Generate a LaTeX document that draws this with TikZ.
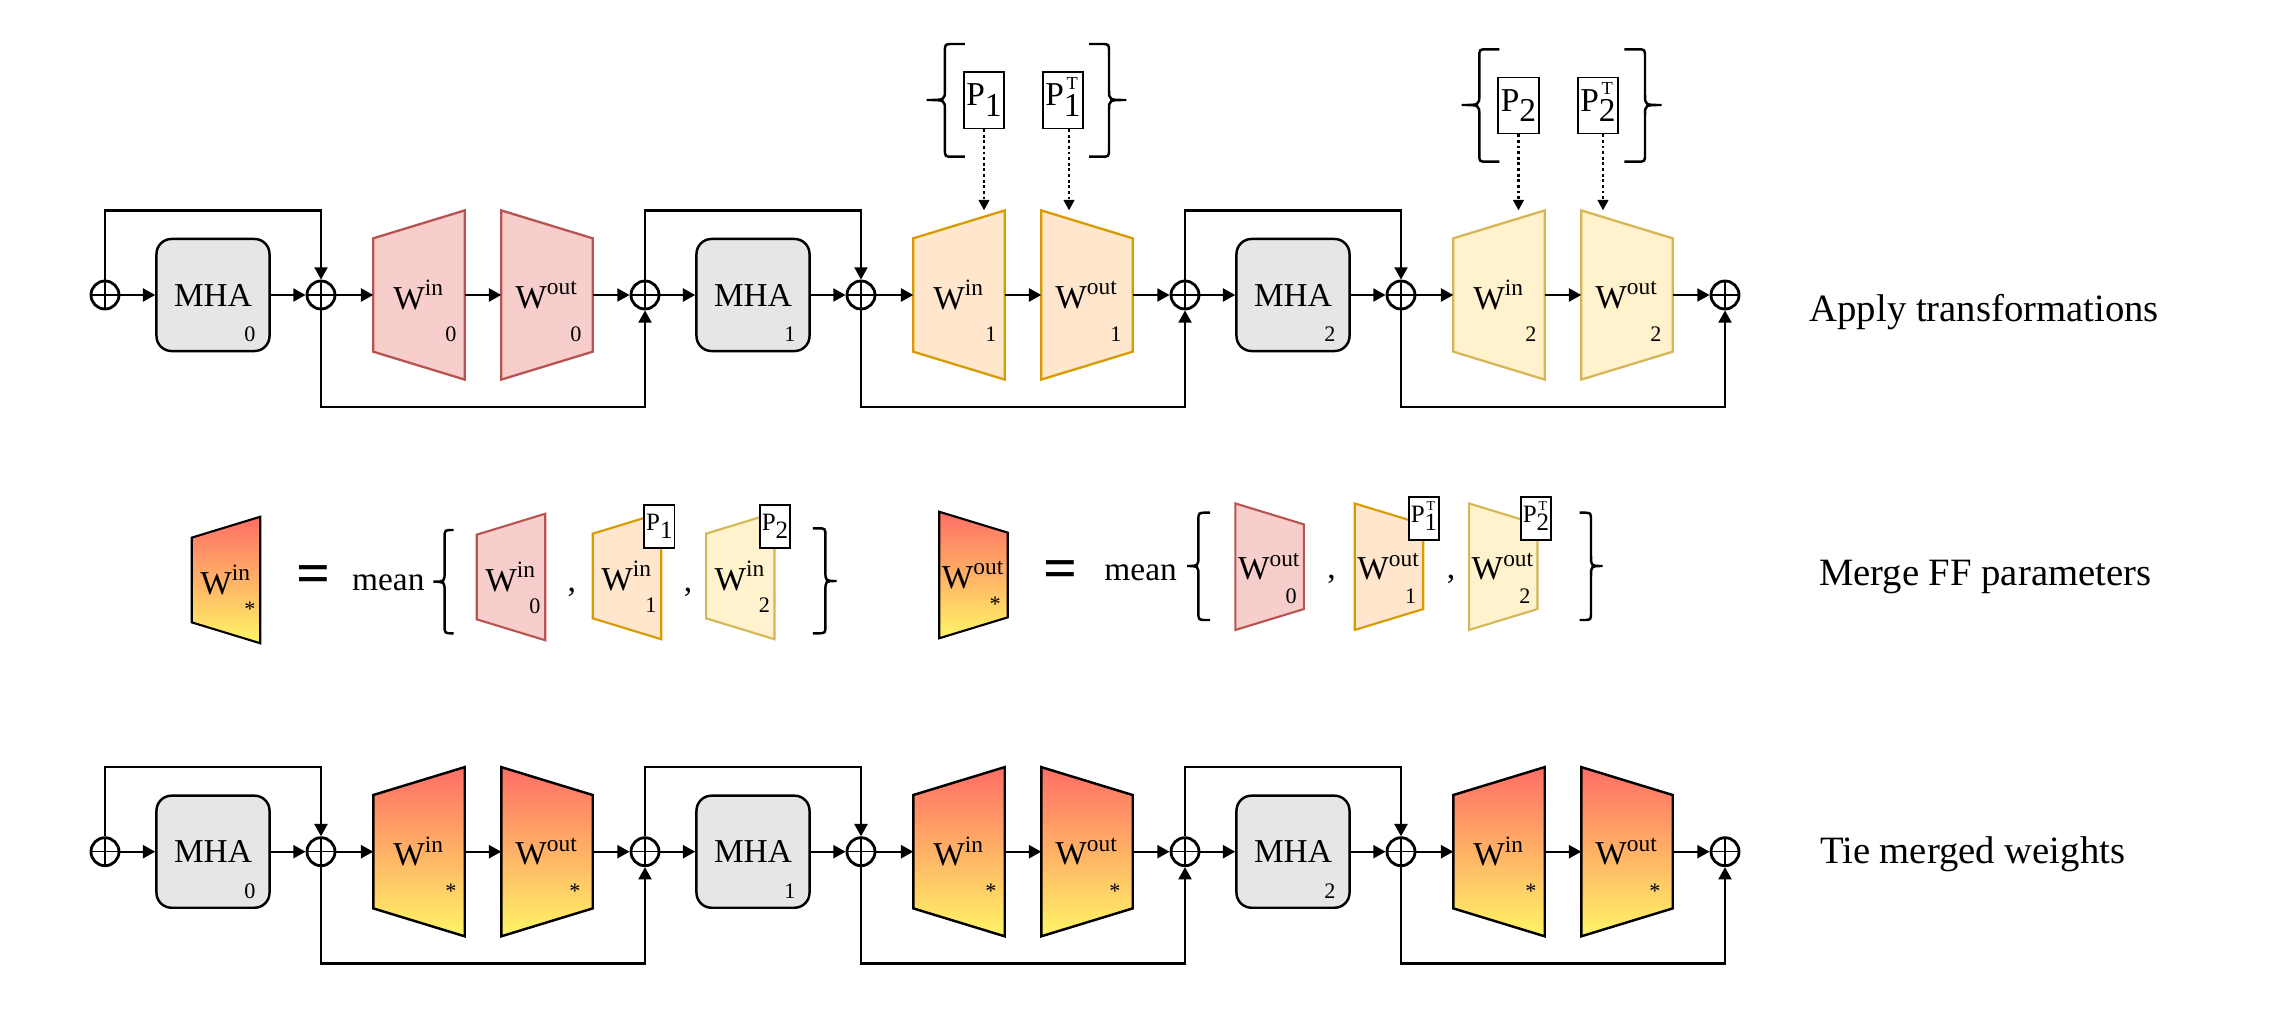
\documentclass[tikz,border=0pt]{standalone}
\usepackage{fontspec}
\setmainfont{Liberation Serif}
\usepackage{graphicx}
\usetikzlibrary{arrows.meta,calc,backgrounds}

\definecolor{pinkfill}{HTML}{F8CECC}
\definecolor{pinkline}{HTML}{B85450}
\definecolor{orangefill}{HTML}{FFE6CC}
\definecolor{orangeline}{HTML}{D79B00}
\definecolor{yellowfill}{HTML}{FFF2CC}
\definecolor{yellowline}{HTML}{D6B656}
\definecolor{mhagray}{HTML}{E6E6E6}
\definecolor{gradtop}{RGB}{255,110,102}
\definecolor{gradbot}{RGB}{255,245,102}

\newcommand{\fsmain}{\fontsize{9.5}{11}\selectfont}
\newcommand{\fssub}{\fontsize{6.3}{7}\selectfont}
\newcommand{\fssmall}{\fontsize{7.1}{8}\selectfont}
\newcommand{\fsrow}{\fontsize{11}{13}\selectfont}
\newcommand{\fseq}{\fontsize{17}{17}\selectfont\bfseries}

% P boxes
\newcommand{\Psub}[1]{P\raisebox{-0.32em}{#1}}
\newcommand{\PsubT}[1]{P\rlap{\smash{\raisebox{0.5em}{\kern0.08em\scalebox{0.55}{T}}}}\raisebox{-0.32em}{#1}}

% trapezoids drawn round an empty block node
\newcommand{\ffin}[2]{\path[#2] (#1.north east) -- (#1.south east)
  -- ($(#1.south west)!0.165!(#1.north west)$) -- ($(#1.north west)!0.165!(#1.south west)$) -- cycle;}
\newcommand{\ffout}[2]{\path[#2] (#1.north west) -- (#1.south west)
  -- ($(#1.south east)!0.165!(#1.north east)$) -- ($(#1.north east)!0.165!(#1.south east)$) -- cycle;}

% curly brace: tip x, arm x, hook x, top y, mid y, bottom y
\newcommand{\drawbrace}[6]{\draw[brc] (#3,#4) -- ($(#2,#4)!0.08cm!(#3,#4)$) .. controls (#2,#4) .. (#2,#4+8)
  -- (#2,#5-10) .. controls (#2,#5) .. (#1,#5) .. controls (#2,#5) .. (#2,#5+10)
  -- (#2,#6-8) .. controls (#2,#6) .. ($(#2,#6)!0.08cm!(#3,#6)$) -- (#3,#6);}

\begin{document}
\begin{tikzpicture}[x=0.01cm, y=-0.01cm,
    add/.style={circle, draw, line width=0.8pt, minimum size=0.28cm, inner sep=0pt,
      path picture={\draw[line width=0.4pt] (path picture bounding box.north) -- (path picture bounding box.south)
        (path picture bounding box.west) -- (path picture bounding box.east);}},
    mha/.style={draw, fill=mhagray, line width=0.7pt, rounded corners=0.15cm,
      minimum width=1.13cm, minimum height=1.12cm, inner sep=0pt, font=\fsmain},
    ff/.style={minimum width=0.9cm, minimum height=1.677cm, inner sep=0pt, font=\fsmain},
    ffs/.style={minimum width=0.67cm, minimum height=1.25cm, inner sep=0pt, font=\fsmain},
    sub/.style={font=\fssub, inner sep=0pt, anchor=base},
    conn/.style={line width=0.65pt, -{Triangle[length=3.5pt, width=3.7pt]}},
    dotconn/.style={line width=0.8pt, dash pattern=on 0.8pt off 0.8pt, -{Triangle[length=3pt, width=3pt]}},
    pbox/.style={draw, fill=white, line width=0.45pt, inner sep=0pt,
      minimum width=0.405cm, minimum height=0.56cm, font=\fsmain},
    pboxs/.style={pbox, minimum width=0.305cm, minimum height=0.43cm, font=\fssmall},
    brc/.style={line width=0.7pt},
    txt/.style={font=\fsmain, inner sep=0pt, anchor=base},
    rowlabel/.style={font=\fsrow, anchor=base west, inner sep=0pt},
    merged/.style={draw=black, line width=0.7pt, top color=gradtop, bottom color=gradbot},
  ]
  \useasboundingbox (0,0) rectangle (2275,1012);

  % Apply transformations (riga 1)
  \foreach \k/\fc/\lc in {0/pinkfill/pinkline,1/orangefill/orangeline,2/yellowfill/yellowline} {
    \node[add] (ap-a\k) at (105+540*\k, 295) {};
    \node[mha] (ap-m\k) at (213+540*\k, 295) {MHA};
    \node[sub] (ap-m\k s) at (250+540*\k, 341.7) {\k};
    \node[add] (ap-b\k) at (321+540*\k, 295) {};
    \node[ff] (ap-i\k) at (419+540*\k, 295) {W\textsuperscript{in}};
    \node[sub] (ap-i\k s) at (451+540*\k, 341.7) {\k};
    \node[ff] (ap-o\k) at (547+540*\k, 295) {W\textsuperscript{out}};
    \node[sub] (ap-o\k s) at (576+540*\k, 341.7) {\k};
    \begin{scope}[on background layer]
      \ffin{ap-i\k}{fill=\fc, draw=\lc, line width=0.65pt}
      \ffout{ap-o\k}{fill=\fc, draw=\lc, line width=0.65pt}
    \end{scope}
  }
  \node[add] (ap-a3) at (1725, 295) {};
  \node[rowlabel] (ap-label) at (1809, 321.7) {Apply transformations};

  % permutazioni
  \node[pbox] (ap-p1) at (984, 100.3) {\Psub{1}};
  \node[pbox] (ap-p1t) at (1063, 100.3) {\PsubT{1}};
  \node[pbox] (ap-p2) at (1518.5, 105.5) {\Psub{2}};
  \node[pbox] (ap-p2t) at (1598, 105.5) {\PsubT{2}};
  \draw[dotconn] (ap-p1) -- (ap-p1 |- ap-i1.north);
  \draw[dotconn] ($(ap-p1t.south)+(6,0)$) -- ($(ap-p1t.south |- ap-o1.north)+(6,0)$);
  \draw[dotconn] (ap-p2) -- (ap-p2 |- ap-i2.north);
  \draw[dotconn] ($(ap-p2t.south)+(5,0)$) -- ($(ap-p2t.south |- ap-o2.north)+(5,0)$);
  \drawbrace{926.5}{944.9}{964.8}{44}{100}{156.7}
  \drawbrace{1126.3}{1109}{1089}{44}{100}{156.7}
  \drawbrace{1461.7}{1479.3}{1499.3}{49.3}{105}{161.7}
  \drawbrace{1661.7}{1645}{1624.3}{49.3}{105}{161.7}

  % Merge FF parameters (riga 2)
  \node[ffs] (mg-wi) at (226, 580) {W\textsuperscript{in}};
  \node[sub] (mg-wi s) at ($(mg-wi)+(24,36.5)$) {*};
  \node[font=\fseq, inner sep=0pt] (mg-eq1) at (314, 580) {=};
  \node[txt] (mg-mean1) at (388.3, 590) {mean};
  \drawbrace{433.4}{444.6}{453.5}{530}{581.7}{633.3}
  \node[ffs] (mg-i0) at (511, 577) {W\textsuperscript{in}};
  \node[txt] (mg-c1) at (571.8, 591) {,};
  \node[ffs] (mg-i1) at (627, 576) {W\textsuperscript{in}};
  \node[txt] (mg-c2) at (688, 591) {,};
  \node[ffs] (mg-i2) at (740.3, 576) {W\textsuperscript{in}};
  \drawbrace{836.5}{825.4}{812.9}{528.3}{581}{633.3}
  \foreach \k in {0,1,2} \node[sub] (mg-i\k s) at ($(mg-i\k)+(24,36.5)$) {\k};
  \node[pboxs] (mg-p1) at (659.3, 526.7) {\Psub{1}};
  \node[pboxs] (mg-p2) at (775, 526.7) {\Psub{2}};

  \node[ffs] (mg-wo) at (973.5, 575) {W\textsuperscript{out}};
  \node[sub] (mg-wo s) at ($(mg-wo)+(21.6,36.5)$) {*};
  \node[font=\fseq, inner sep=0pt] (mg-eq2) at (1060.6, 575) {=};
  \node[txt] (mg-mean2) at (1140.6, 580) {mean};
  \drawbrace{1187}{1198.4}{1210}{512.7}{566}{620}
  \node[ffs] (mg-o0) at (1269.6, 566.7) {W\textsuperscript{out}};
  \node[txt] (mg-c3) at (1331.6, 578) {,};
  \node[ffs] (mg-o1) at (1389, 566.7) {W\textsuperscript{out}};
  \node[txt] (mg-c4) at (1451, 578) {,};
  \node[ffs] (mg-o2) at (1503.3, 566.7) {W\textsuperscript{out}};
  \drawbrace{1602.5}{1591}{1579.5}{512.7}{566}{620}
  \foreach \k in {0,1,2} \node[sub] (mg-o\k s) at ($(mg-o\k)+(21.6,36.5)$) {\k};
  \node[pboxs] (mg-p1t) at (1424, 518.7) {\PsubT{1}};
  \node[pboxs] (mg-p2t) at (1536, 518.7) {\PsubT{2}};

  \begin{scope}[on background layer]
    \ffin{mg-wi}{merged, line width=0.6pt}
    \ffout{mg-wo}{merged, line width=0.6pt}
    \ffin{mg-i0}{fill=pinkfill, draw=pinkline, line width=0.6pt}
    \ffin{mg-i1}{fill=orangefill, draw=orangeline, line width=0.6pt}
    \ffin{mg-i2}{fill=yellowfill, draw=yellowline, line width=0.6pt}
    \ffout{mg-o0}{fill=pinkfill, draw=pinkline, line width=0.6pt}
    \ffout{mg-o1}{fill=orangefill, draw=orangeline, line width=0.6pt}
    \ffout{mg-o2}{fill=yellowfill, draw=yellowline, line width=0.6pt}
  \end{scope}
  \node[rowlabel] (mg-label) at (1818.3, 585) {Merge FF parameters};

  % Tie merged weights (riga 3)
  \foreach \k in {0,1,2} {
    \node[add] (ti-a\k) at (105+540*\k, 851.7) {};
    \node[mha] (ti-m\k) at (213+540*\k, 851.7) {MHA};
    \node[sub] (ti-m\k s) at (250+540*\k, 898.4) {\k};
    \node[add] (ti-b\k) at (321+540*\k, 851.7) {};
    \node[ff] (ti-i\k) at (419+540*\k, 851.7) {W\textsuperscript{in}};
    \node[sub] (ti-i\k s) at (451+540*\k, 898.4) {*};
    \node[ff] (ti-o\k) at (547+540*\k, 851.7) {W\textsuperscript{out}};
    \node[sub] (ti-o\k s) at (575+540*\k, 898.4) {*};
    \begin{scope}[on background layer]
      \ffin{ti-i\k}{merged}
      \ffout{ti-o\k}{merged}
    \end{scope}
  }
  \node[add] (ti-a3) at (1725, 851.7) {};
  \node[rowlabel] (ti-label) at (1819.3, 863.3) {Tie merged weights};

  % collegamenti e residui
  \foreach \r in {ap,ti} {
    \foreach \k in {0,1,2} {
      \pgfmathtruncatemacro\n{\k+1}
      \draw[conn] (\r-a\k) -- (\r-m\k);
      \draw[conn] (\r-m\k) -- (\r-b\k);
      \draw[conn] (\r-b\k) -- (\r-i\k);
      \draw[conn] (\r-i\k) -- (\r-o\k);
      \draw[conn] (\r-o\k) -- (\r-a\n);
      \draw[conn] (\r-a\k.north) -- (\r-a\k.north |- \r-i\k.north) -| (\r-b\k.north);
      \draw[conn] (\r-b\k.south) -- ($(\r-b\k)+(0,111.7)$) -| (\r-a\n.south);
    }
  }
\end{tikzpicture}
\end{document}
